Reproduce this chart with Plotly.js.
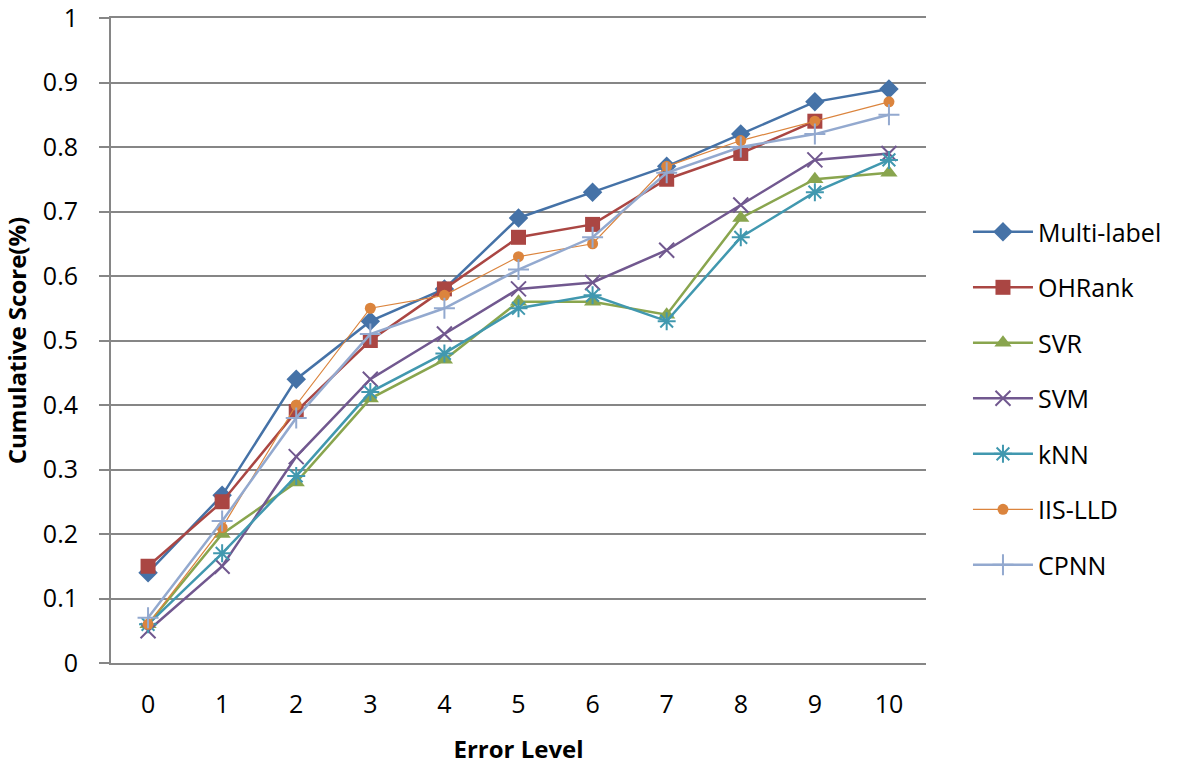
<!DOCTYPE html>
<html><head><meta charset="utf-8">
<script src="https://cdn.plot.ly/plotly-3.0.1.min.js"></script>
<style>body{margin:0;background:#fff}#c{width:1181px;height:765px}</style>
</head><body><div id="c"></div>
<script>
const errorLevels = ['0','1','2','3','4','5','6','7','8','9','10'];
const multiLabel = [0.14,0.26,0.44,0.53,0.58,0.69,0.73,0.77,0.82,0.87,0.89];
const ohRank     = [0.15,0.25,0.39,0.50,0.58,0.66,0.68,0.75,0.79,0.84,null];
const svr        = [0.06,0.20,0.28,0.41,0.47,0.56,0.56,0.54,0.69,0.75,0.76];
const svm        = [0.05,0.15,0.32,0.44,0.51,0.58,0.59,0.64,0.71,0.78,0.79];
const knn        = [0.06,0.17,0.29,0.42,0.48,0.55,0.57,0.53,0.66,0.73,0.78];
const iisLld     = [0.06,0.21,0.40,0.55,0.57,0.63,0.65,0.77,0.81,0.84,0.87];
const cpnn       = [0.07,0.22,0.38,0.51,0.55,0.61,0.66,0.76,0.80,0.82,0.85];
const yTickVals  = [0,0.1,0.2,0.3,0.4,0.5,0.6,0.7,0.8,0.9,1];
const yTickText  = ['0','0.1','0.2','0.3','0.4','0.5','0.6','0.7','0.8','0.9','1'];

const series = [
  {name:'Multi-label', y:multiLabel, color:'#4572A7', symbol:'diamond', size:15, width:2.5},
  {name:'OHRank', y:ohRank, color:'#AA4643', symbol:'square', size:15, width:2.5},
  {name:'SVR', y:svr, color:'#89A54E', symbol:'triangle-up', size:15, width:2.5},
  {name:'SVM', y:svm, color:'#71588F', symbol:'x-thin-open', size:15, width:2.5},
  {name:'kNN', y:knn, color:'#4198AF', symbol:'asterisk-open', size:15, width:2.5},
  {name:'IIS-LLD', y:iisLld, color:'#DB843D', symbol:'circle', size:11, width:1.2},
  {name:'CPNN', y:cpnn, color:'#93A9CF', symbol:'cross-thin-open', size:15, width:2.5}
];
const traces = series.map((s,i)=>({
  type:'scatter', mode:'lines+markers', name:s.name, x:errorLevels, y:s.y,
  legendgroup:'g'+i,
  line:{color:s.color, width:s.width},
  marker:{symbol:s.symbol, size:s.size, color:s.color, line:{color:s.color, width:s.symbol.indexOf('open')>=0?2:0}}
}));
const font = "'Open Sans', 'Noto Sans', sans-serif";
Plotly.newPlot('c', traces, {
  width:1181, height:765,
  margin:{l:111, r:255, t:18, b:102},
  paper_bgcolor:'#fff', plot_bgcolor:'#fff',
  font:{family:font, size:25, color:'#000'},
  showlegend:true,
  legend:{x:1.0515, y:0.41, yanchor:'middle', xanchor:'left', font:{size:25, color:'#000'}, tracegroupgap:20, itemwidth:60},
  xaxis:{type:'category', range:[-0.5,10.5], showgrid:false, showline:true, mirror:true, linecolor:'#868686', linewidth:2,
    ticks:'', ticklabelstandoff:18, tickfont:{size:25},
    title:{text:'<b>Error Level</b>', font:{size:24}, standoff:23}, zeroline:false},
  yaxis:{range:[0,1], tickvals:yTickVals, ticktext:yTickText, showgrid:true, gridcolor:'#868686', gridwidth:2,
    showline:true, linecolor:'#868686', linewidth:2, ticks:'outside', ticklen:10, tickcolor:'#868686', tickwidth:2,
    ticklabelstandoff:16, ticklabeloverflow:'allow', tickfont:{size:25}, zeroline:false,
    title:{text:'<b>Cumulative Score(%)</b>', font:{size:24}, standoff:12}}
}, {displayModeBar:false});
</script></body></html>
